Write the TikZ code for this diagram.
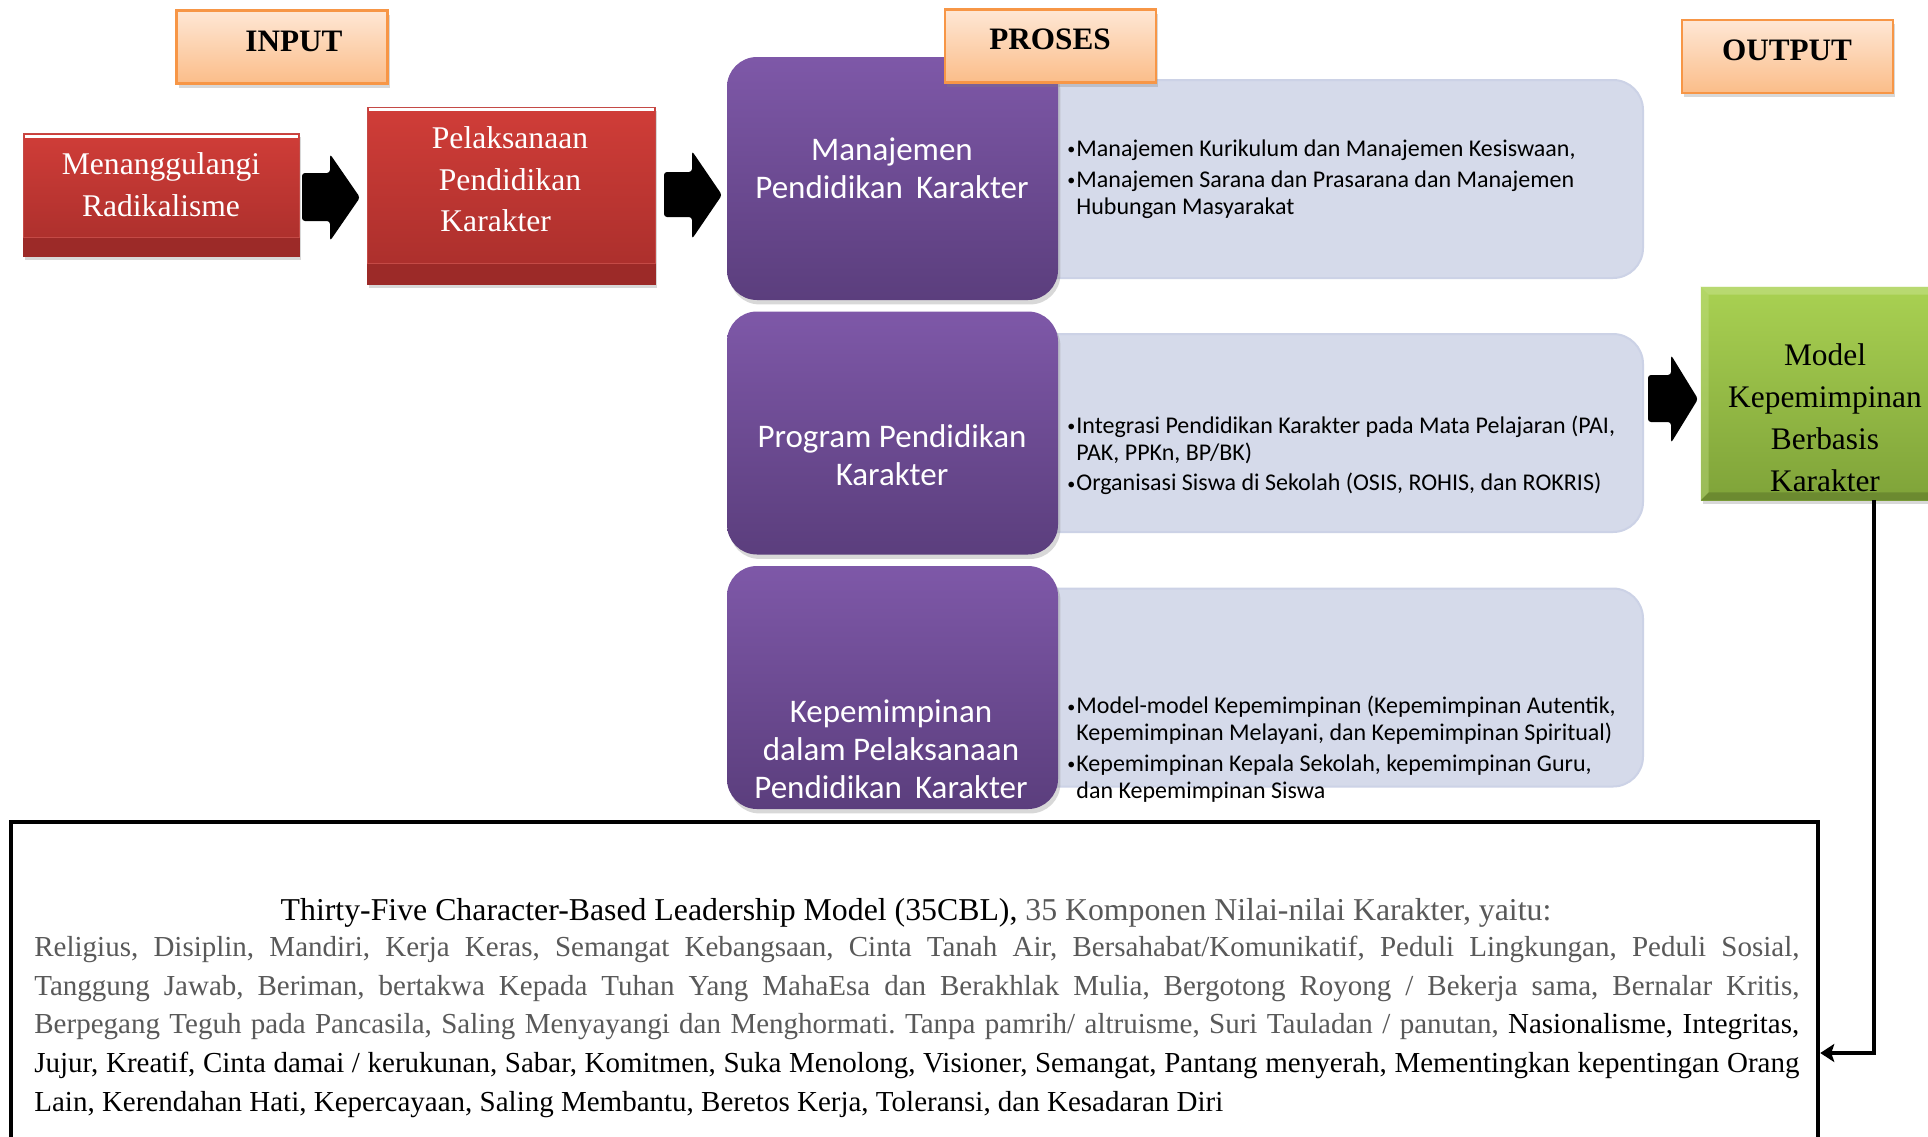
\documentclass[tikz,border=0pt]{standalone}
\usepackage{fontspec}
\setmainfont{Liberation Serif}
\newfontfamily\calib{Carlito}
\usetikzlibrary{shadows,arrows.meta,calc}
\definecolor{orTop}{HTML}{FEE7D5}
\definecolor{orBot}{HTML}{FBBD89}
\definecolor{orLine}{HTML}{F79646}
\definecolor{rdTop}{HTML}{D03D38}
\definecolor{rdBot}{HTML}{A82E2B}
\definecolor{rdBand}{HTML}{9C2A28}
\definecolor{rdLine}{HTML}{C44A46}
\definecolor{puTop}{HTML}{7E58A8}
\definecolor{puBot}{HTML}{5B3E7D}
\definecolor{lbFill}{HTML}{D5DAEA}
\definecolor{lbLine}{HTML}{CCD2E6}
\definecolor{grTop}{HTML}{A9D152}
\definecolor{grBot}{HTML}{7FA339}
\definecolor{txGray}{HTML}{595959}
\newcommand\bul{\makebox[4.5pt][l]{\raisebox{0.8pt}{\fontsize{8}{8}\selectfont\textbullet}}}
\newcommand\ind{\hspace*{4.5pt}}
\frenchspacing
\tikzset{
  shd/.style={drop shadow={opacity=0.3, shadow xshift=1.2pt, shadow yshift=-2.2pt}},
  lbl/.style={draw=orLine, line width=1.2pt, top color=orTop, bottom color=orBot,
    minimum width=105.5pt, minimum height=36.5pt, inner sep=0pt, shd},
  lbltext/.style={font=\fontsize{15.6}{18}\selectfont\bfseries, inner sep=0pt},
  redbox/.style={top color=rdTop, bottom color=rdBot, draw=rdLine, line width=0.5pt,
    inner sep=0pt, shd},
  redtext/.style={text=white, font=\fontsize{15.8}{20.75}\selectfont, align=center, inner sep=0pt},
  pbox/.style={rounded corners=15pt, top color=puTop, bottom color=puBot,
    minimum width=165.5pt, minimum height=121.5pt, inner sep=0pt, shd},
  ptext/.style={text=white, font=\calib\fontsize{16.5}{19}\selectfont, align=center, inner sep=0pt},
  lbox/.style={rounded corners=15pt, fill=lbFill, draw=lbLine, line width=1pt,
    minimum width=321.5pt, minimum height=99pt, inner sep=0pt},
  btext/.style={font=\calib\fontsize{12}{13.5}\selectfont, align=left, inner sep=0pt, anchor=west},
  gbox/.style={top color=grTop, bottom color=grBot, inner sep=0pt,
    minimum width=124pt, minimum height=106.5pt, shd},
  gtext/.style={font=\fontsize{15.7}{21}\selectfont, align=center, inner sep=0pt},
  block/.style={fill=black, rounded corners=1.5pt},
  conn/.style={line width=2.2pt, -{Stealth[length=7pt,width=9pt,inset=1.5pt]}},
  bottext/.style={font=\fontsize{14.5}{19}\selectfont, inner sep=0pt, anchor=mid west},
}
\begin{document}
\begin{tikzpicture}[x=0.5pt,y=-0.5pt]
\useasboundingbox (0,0) rectangle (1928,1136);
\clip (0,0) rectangle (1928,1136);
\fill[white] (0,0) rectangle (1928,1136);

% light boxes
\node[lbox] (l1) at (1321.5,179) {};
\node[lbox] (l2) at (1321.5,433) {};
\node[lbox] (l3) at (1321.5,687.5) {};

% purple boxes
\node[pbox] (p1) at (892.5,178.5) {};
\node[pbox] (p2) at (892.5,433) {};
\node[pbox] (p3) at (892.5,687.5) {};
\node[ptext] (p1t) at (892,168) {Manajemen\\Pendidikan\hspace{0.4em}Karakter};
\node[ptext] (p2t) at (892,455) {Program Pendidikan\\Karakter};
\node[ptext] (p3t) at (891,749) {Kepemimpinan\\dalam Pelaksanaan\\Pendidikan\hspace{0.4em}Karakter};

% bullet texts
\node[btext] (b1a) at (1067,150) {\bul Manajemen Kurikulum dan Manajemen Kesiswaan,};
\node[btext] (b1b) at (1067,194.5) {\bul Manajemen Sarana dan Prasarana dan Manajemen\\\ind Hubungan Masyarakat};
\node[btext] (b2a) at (1067,439.5) {\bul Integrasi Pendidikan Karakter pada Mata Pelajaran (PAI,\\\ind PAK, PPKn, BP/BK)};
\node[btext] (b2b) at (1067,484) {\bul Organisasi Siswa di Sekolah (OSIS, ROHIS, dan ROKRIS)};
\node[btext] (b3a) at (1067,720.5) {\bul Model-model Kepemimpinan (Kepemimpinan Autentik,\\\ind Kepemimpinan Melayani, dan Kepemimpinan Spiritual)};
\node[btext] (b3b) at (1067,778.5) {\bul Kepemimpinan Kepala Sekolah, kepemimpinan Guru,\\\ind dan Kepemimpinan Siswa};

% labels
\node[lbl] (inp) at (282,47) {};
\node[lbltext] (inpt) at (294,41) {INPUT};
\node[lbl] (pro) at (1050.5,46) {};
\node[lbltext] (prot) at (1050,39) {PROSES};
\node[lbl] (out) at (1787.5,56.5) {};
\node[lbltext] (outt) at (1787,50) {OUTPUT};

% red boxes
\node[redbox, minimum width=138pt, minimum height=61.5pt] (r1) at (161,194.5) {};
\fill[rdBand] ($(r1.south west)+(0,-19)$) rectangle (r1.south east);
\draw[rdLine, line width=0.8pt] ($(r1.south west)+(1,-19)$) -- ($(r1.south east)+(-1,-19)$);
\draw[white, line width=1.6pt] ($(r1.north west)+(2,4)$) -- ($(r1.north east)+(-2,4)$);
\node[redtext] (r1t) at (161,184.5) {Menanggulangi\\Radikalisme};

\node[redbox, minimum width=144pt, minimum height=88.5pt] (r2) at (511,195.5) {};
\fill[rdBand] ($(r2.south west)+(0,-21)$) rectangle (r2.south east);
\draw[rdLine, line width=0.8pt] ($(r2.south west)+(1,-21)$) -- ($(r2.south east)+(-1,-21)$);
\draw[white, line width=1.6pt] ($(r2.north west)+(2,3)$) -- ($(r2.north east)+(-2,3)$);
\node[redtext, anchor=mid] (r2a) at (510,144) {Pelaksanaan};
\node[redtext, anchor=mid] (r2b) at (510,186) {Pendidikan};
\node[redtext, anchor=mid west] (r2c) at (440,227) {Karakter};

% block arrows
\fill[block] (302,173) -- (330,173) -- (330,154) -- (360,197.5) -- (330,241) -- (330,221) -- (302,221) -- cycle;
\fill[block] (664,172) -- (692,172) -- (692,151) -- (722,195) -- (692,239) -- (692,217) -- (664,217) -- cycle;
\fill[block] (1648,375) -- (1671,375) -- (1671,355) -- (1698,399) -- (1671,443) -- (1671,422) -- (1648,422) -- cycle;

% green output box
\node[gbox] (g) at (1825,393.5) {};
\fill[grTop!70!white, opacity=0.6] (g.north west) -- (g.north east) -- ($(g.north east)+(-8,8)$) -- ($(g.north west)+(8,8)$) -- cycle;
\fill[grTop!70!white, opacity=0.4] (g.north west) -- ($(g.north west)+(8,8)$) -- ($(g.south west)+(8,-8)$) -- (g.south west) -- cycle;
\fill[grBot!70!black, opacity=0.5] (g.south west) -- ($(g.south west)+(8,-8)$) -- ($(g.south east)+(-8,-8)$) -- (g.south east) -- cycle;
\node[gtext] (gt) at (1825,417.5) {Model\\Kepemimpinan\\Berbasis\\Karakter};

% bottom box
\node[draw=black, line width=2.25pt, fill=white, minimum width=903.5pt, minimum height=214pt, inner sep=0pt] (bot) at (914.5,1036) {};
\node[font=\fontsize{15.9}{19}\selectfont, inner sep=0pt, anchor=mid] (t1) at (916,916)
  {Thirty-Five Character-Based Leadership Model (35CBL), \textcolor{txGray}{35 Komponen Nilai-nilai Karakter, yaitu:}};
\node[bottext] (t2) at (34,952) {\makebox[882.5pt][s]{\textcolor{txGray}{Religius, Disiplin, Mandiri, Kerja Keras, Semangat Kebangsaan, Cinta Tanah Air, Bersahabat/Komunikatif, Peduli Lingkungan, Peduli Sosial,}}};
\node[bottext] (t3) at (34,991) {\makebox[882.5pt][s]{\textcolor{txGray}{Tanggung Jawab, Beriman, bertakwa Kepada Tuhan Yang MahaEsa dan Berakhlak Mulia, Bergotong Royong / Bekerja sama, Bernalar Kritis,}}};
\node[bottext] (t4) at (34,1029) {\makebox[882.5pt][s]{\textcolor{txGray}{Berpegang Teguh pada Pancasila, Saling Menyayangi dan Menghormati. Tanpa pamrih/ altruisme, Suri Tauladan / panutan,} Nasionalisme, Integritas,}};
\node[bottext] (t5) at (34,1068) {\makebox[882.5pt][s]{Jujur, Kreatif, Cinta damai / kerukunan, Sabar, Komitmen, Suka Menolong, Visioner, Semangat, Pantang menyerah, Mementingkan kepentingan Orang}};
\node[bottext] (t6) at (34,1107) {Lain, Kerendahan Hati, Kepercayaan, Saling Membantu, Beretos Kerja, Toleransi, dan Kesadaran Diri};

% connector
\coordinate (bend) at (1874,1053);
\draw[conn] (g.south -| bend) -- (bend) -- (bend -| bot.east);
\end{tikzpicture}
\end{document}
